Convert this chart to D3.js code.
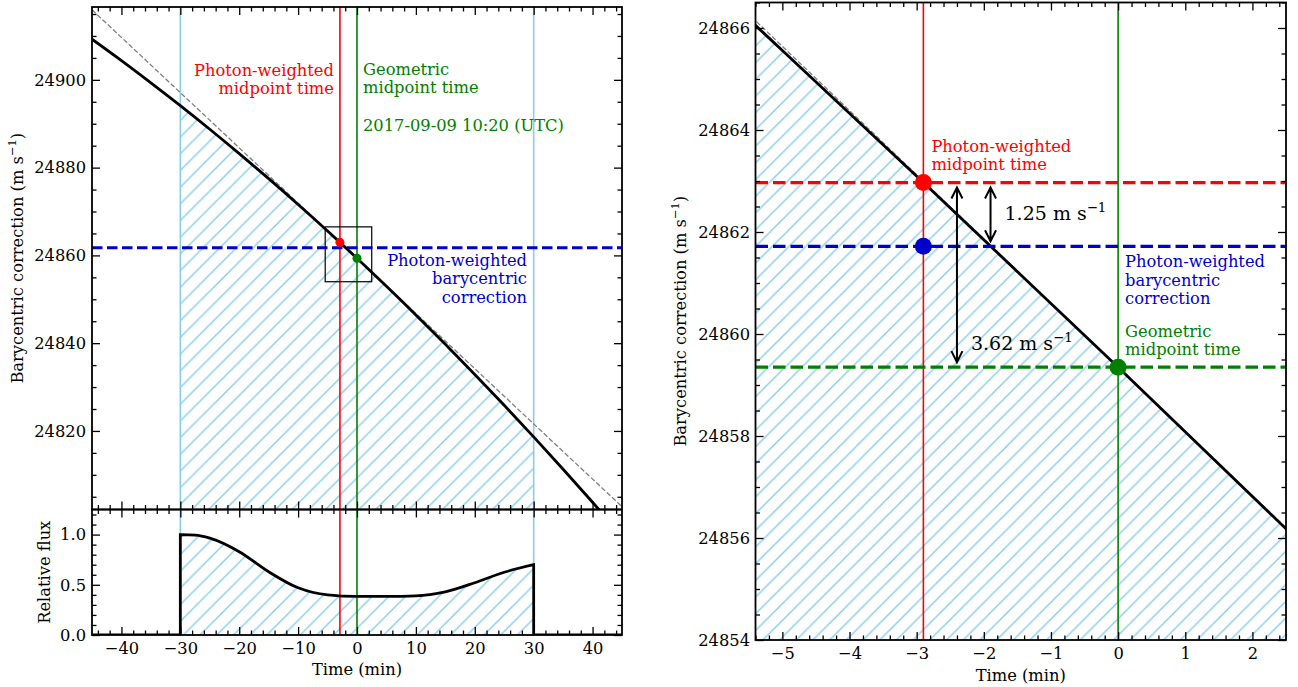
<!DOCTYPE html>
<html>
<head>
<meta charset="utf-8">
<script src="https://cdn.jsdelivr.net/npm/d3@7"></script>
<style>
  body { margin: 0; background: #fff; }
  svg text { font-family: "DejaVu Serif", serif; }
</style>
</head>
<body>
<svg id="fig" width="1298" height="687"></svg>
<script>
// ---- data ----
// barycentric correction (m/s) against time from the geometric midpoint (min)
const timeMin  = [-45, -40, -35, -30, -25, -20, -15, -10, -5, -2.9, 0, 2.5, 5, 10, 15, 20, 25, 30, 35, 40, 45];
const baryCorr = [24909.27, 24904.39, 24899.33, 24894.12, 24888.74, 24883.19, 24877.48, 24871.60, 24865.56, 24862.97,
                  24859.35, 24856.18, 24852.98, 24846.44, 24839.74, 24832.87, 24825.84, 24818.64, 24811.28, 24803.75, 24796.06];
// straight-line (first order) correction about the geometric midpoint
const linearTime = [-45, 45];
const linearCorr = [24915.96, 24802.74];
// relative flux during the exposure
const fluxTime = [-30, -27.5, -25, -20, -15, -10, -5, 0, 5, 10, 15, 20, 25, 30];
const fluxRel  = [1.00, 0.995, 0.965, 0.83, 0.63, 0.47, 0.40, 0.385, 0.385, 0.39, 0.43, 0.52, 0.625, 0.70];
const exposure = [-30, 30];
const photonMidTime = -2.9, geoMidTime = 0;
const photonMidCorr = 24862.97, photonWeightedCorr = 24861.72, geoMidCorr = 24859.35;
const arrowTimes = [-1.9, -2.4];
const dateLabel = "2017-09-09 10:20 (UTC)";
// ticks
const leftXTicks = [-40, -30, -20, -10, 0, 10, 20, 30, 40];
const leftYTicks = [24820, 24840, 24860, 24880, 24900];
const fluxTicks  = [0, 0.5, 1.0];
const rightXTicks = [-5, -4, -3, -2, -1, 0, 1, 2];
const rightYTicks = [24854, 24856, 24858, 24860, 24862, 24864, 24866];

// ---- colours ----
const C = { sky: "#87ceeb", red: "#ff0000", green: "#008000", blue: "#0000cd", gray: "#808080" };

const svg = d3.select("#fig");
const FS = 16.3;

// ---- scales ----
const xL = d3.scaleLinear().domain([-45, 45]).range([92, 622]);
const yL = d3.scaleLinear().domain([24802.1, 24916.6]).range([509.5, 7]);
const yF = d3.scaleLinear().domain([0, 1.25]).range([635, 509.5]);
const xR = d3.scaleLinear().domain([-5.4, 2.5]).range([755.5, 1286]);
const yR = d3.scaleLinear().domain([24854, 24866.5]).range([640, 2.5]);

// ---- defs: hatch and clips ----
const defs = svg.append("defs");
const hs = 16.7;
defs.append("pattern").attr("id", "hatch").attr("patternUnits", "userSpaceOnUse")
  .attr("width", hs).attr("height", hs)
  .append("path")
  .attr("d", `M${-hs/2},${hs/2}L${hs/2},${-hs/2}M0,${hs}L${hs},0M${hs/2},${1.5*hs}L${1.5*hs},${hs/2}`)
  .attr("stroke", C.sky).attr("stroke-width", 1.4).attr("fill", "none");

function clip(id, x, y) {
  const [x0, x1] = x.range(), [y0, y1] = y.range();
  defs.append("clipPath").attr("id", id).append("rect")
    .attr("x", x0).attr("y", y1).attr("width", x1 - x0).attr("height", y0 - y1);
  return `url(#${id})`;
}

function minorTicks(scale, step, majors) {
  const [a, b] = scale.domain().slice().sort((p, q) => p - q);
  const start = Math.ceil(a / step - 1e-9) * step;
  return d3.range(start, b + 1e-9, step)
    .filter(v => !majors.some(m => Math.abs(m - v) < step / 10));
}

// frame with inward ticks on all four sides
function frame(g, x, y, o) {
  const [x0, x1] = x.range(), [y0, y1] = y.range();
  const blank = () => "";
  const put = (axis, tr) => {
    const a = g.append("g").attr("transform", tr).call(axis);
    a.select(".domain").remove();
    a.attr("font-size", FS).attr("font-family", "DejaVu Serif, serif");
    a.selectAll(".tick line").attr("stroke", "#000").attr("stroke-width", 1.3);
    a.selectAll(".tick text").attr("fill", "#000");
    return a;
  };
  const xMin = minorTicks(x, o.xMinor, o.xMajor), yMin = minorTicks(y, o.yMinor, o.yMajor);
  put(d3.axisBottom(x).tickValues(o.xMajor).tickSize(-8).tickPadding(7).tickFormat(o.xFmt || blank), `translate(0,${y0})`);
  put(d3.axisBottom(x).tickValues(xMin).tickSize(-4.5).tickFormat(blank), `translate(0,${y0})`);
  put(d3.axisTop(x).tickValues(o.xMajor).tickSize(-8).tickFormat(blank), `translate(0,${y1})`);
  put(d3.axisTop(x).tickValues(xMin).tickSize(-4.5).tickFormat(blank), `translate(0,${y1})`);
  put(d3.axisLeft(y).tickValues(o.yMajor).tickSize(-8).tickPadding(o.yPad).tickFormat(o.yFmt || blank), `translate(${x0},0)`);
  put(d3.axisLeft(y).tickValues(yMin).tickSize(-4.5).tickFormat(blank), `translate(${x0},0)`);
  put(d3.axisRight(y).tickValues(o.yMajor).tickSize(-8).tickFormat(blank), `translate(${x1},0)`);
  put(d3.axisRight(y).tickValues(yMin).tickSize(-4.5).tickFormat(blank), `translate(${x1},0)`);
  g.append("rect").attr("x", x0).attr("y", y1).attr("width", x1 - x0).attr("height", y0 - y1)
    .attr("fill", "none").attr("stroke", "#000").attr("stroke-width", 1.8);
}

// text with a "m s^-1" style superscript
function unitText(sel, pre, size) {
  sel.append("tspan").text(pre + "m s");
  sel.append("tspan").attr("dy", -0.42 * size).attr("font-size", size * 0.7).text("\u22121");
}

function multiline(g, lines, x, y0, lh, color, anchor, size) {
  lines.forEach((t, i) => g.append("text").attr("x", x).attr("y", y0 + i * lh)
    .attr("fill", color).attr("text-anchor", anchor).attr("font-size", size || FS).text(t));
}

const corr = timeMin.map((t, i) => ({ t, v: baryCorr[i] }));
const lin = linearTime.map((t, i) => ({ t, v: linearCorr[i] }));
const flux = fluxTime.map((t, i) => ({ t, v: fluxRel[i] }));
const inExp = d => d.t >= exposure[0] - 1e-9 && d.t <= exposure[1] + 1e-9;

// =========================== left, upper panel ===========================
{
  const g = svg.append("g");
  const body = g.append("g").attr("clip-path", clip("clipLT", xL, yL));
  const area = d3.area().curve(d3.curveMonotoneX).x(d => xL(d.t)).y0(yL.range()[0]).y1(d => yL(d.v));
  body.append("path").datum(corr.filter(inExp)).attr("d", area).attr("fill", "url(#hatch)");
  exposure.forEach(t => body.append("line").attr("x1", xL(t)).attr("x2", xL(t))
    .attr("y1", yL.range()[1]).attr("y2", yL.range()[0]).attr("stroke", C.sky).attr("stroke-width", 1.6));
  [[photonMidTime, C.red], [geoMidTime, C.green]].forEach(([t, c]) =>
    body.append("line").attr("x1", xL(t)).attr("x2", xL(t)).attr("y1", yL.range()[1]).attr("y2", yL.range()[0])
      .attr("stroke", c).attr("stroke-width", 1.6));
  const line = d3.line().x(d => xL(d.t)).y(d => yL(d.v));
  body.append("path").datum(lin).attr("d", line).attr("fill", "none").attr("stroke", C.gray)
    .attr("stroke-width", 1.3).attr("stroke-dasharray", "5,2.2");
  body.append("path").datum(corr).attr("d", line.curve(d3.curveMonotoneX)).attr("fill", "none")
    .attr("stroke", "#000").attr("stroke-width", 2.8);
  body.append("line").attr("x1", xL.range()[0]).attr("x2", xL.range()[1])
    .attr("y1", yL(photonWeightedCorr)).attr("y2", yL(photonWeightedCorr))
    .attr("stroke", C.blue).attr("stroke-width", 3).attr("stroke-dasharray", "10.5,4.5");
  // zoom window shown on the right
  body.append("rect").attr("x", xL(xR.domain()[0])).attr("y", yL(yR.domain()[1]))
    .attr("width", xL(xR.domain()[1]) - xL(xR.domain()[0]))
    .attr("height", yL(yR.domain()[0]) - yL(yR.domain()[1]))
    .attr("fill", "none").attr("stroke", "#000").attr("stroke-width", 1.2);
  body.append("circle").attr("cx", xL(photonMidTime)).attr("cy", yL(photonMidCorr)).attr("r", 4.5).attr("fill", C.red);
  body.append("circle").attr("cx", xL(geoMidTime)).attr("cy", yL(geoMidCorr)).attr("r", 4.5).attr("fill", C.green);

  frame(g, xL, yL, { xMajor: leftXTicks, xMinor: 2, yMajor: leftYTicks, yMinor: 5, yFmt: d3.format("d"), yPad: 6 });

  multiline(g, ["Photon-weighted", "midpoint time"], xL(photonMidTime) - 6, 75.5, 18.3, C.red, "end");
  multiline(g, ["Geometric", "midpoint time"], xL(geoMidTime) + 6, 74.5, 18.3, C.green, "start");
  multiline(g, [dateLabel], xL(geoMidTime) + 6, 130.5, 18.3, C.green, "start");
  multiline(g, ["Photon-weighted", "barycentric", "correction"], 527, yL(photonWeightedCorr) + 18.3, 18.3, C.blue, "end");

  const yl = g.append("text").attr("transform", `translate(23,${(yL.range()[0] + yL.range()[1]) / 2}) rotate(-90)`)
    .attr("text-anchor", "middle").attr("font-size", FS);
  yl.append("tspan").text("Barycentric correction (");
  unitText(yl, "", FS);
  yl.append("tspan").attr("dy", 0.42 * FS).text(")");
}

// =========================== left, lower panel ===========================
{
  const g = svg.append("g");
  const body = g.append("g").attr("clip-path", clip("clipLB", xL, yF));
  const area = d3.area().curve(d3.curveMonotoneX).x(d => xL(d.t)).y0(yF(0)).y1(d => yF(d.v));
  body.append("path").datum(flux).attr("d", area).attr("fill", "url(#hatch)");
  exposure.forEach(t => body.append("line").attr("x1", xL(t)).attr("x2", xL(t))
    .attr("y1", yF.range()[1]).attr("y2", yF.range()[0]).attr("stroke", C.sky).attr("stroke-width", 1.6));
  [[photonMidTime, C.red], [geoMidTime, C.green]].forEach(([t, c]) =>
    body.append("line").attr("x1", xL(t)).attr("x2", xL(t)).attr("y1", yF.range()[1]).attr("y2", yF.range()[0])
      .attr("stroke", c).attr("stroke-width", 1.6));
  const curve = d3.line().curve(d3.curveMonotoneX).x(d => xL(d.t)).y(d => yF(d.v))(flux);
  const first = flux[0], last = flux[flux.length - 1];
  const d = `M${xL(xL.domain()[0])},${yF(0)}L${xL(first.t)},${yF(0)}L` + curve.slice(1) +
            `L${xL(last.t)},${yF(0)}L${xL(xL.domain()[1])},${yF(0)}`;
  body.append("path").attr("d", d).attr("fill", "none").attr("stroke", "#000").attr("stroke-width", 2.8);

  frame(g, xL, yF, { xMajor: leftXTicks, xMinor: 2, xFmt: d3.format("d"), yMajor: fluxTicks, yMinor: 0.1, yFmt: d3.format(".1f"), yPad: 6 });

  g.append("text").attr("transform", `translate(50,${(yF.range()[0] + yF.range()[1]) / 2}) rotate(-90)`)
    .attr("text-anchor", "middle").attr("font-size", FS).text("Relative flux");
  g.append("text").attr("x", (xL.range()[0] + xL.range()[1]) / 2).attr("y", 675)
    .attr("text-anchor", "middle").attr("font-size", FS).text("Time (min)");
}

// =========================== right panel (zoom) ===========================
{
  const g = svg.append("g");
  const body = g.append("g").attr("clip-path", clip("clipR", xR, yR));
  const area = d3.area().curve(d3.curveMonotoneX).x(d => xR(d.t)).y0(yR.range()[0]).y1(d => yR(d.v));
  body.append("path").datum(corr.filter(inExp)).attr("d", area).attr("fill", "url(#hatch)");
  [[photonMidTime, C.red], [geoMidTime, C.green]].forEach(([t, c]) =>
    body.append("line").attr("x1", xR(t)).attr("x2", xR(t)).attr("y1", yR.range()[1]).attr("y2", yR.range()[0])
      .attr("stroke", c).attr("stroke-width", 1.6));
  const line = d3.line().x(d => xR(d.t)).y(d => yR(d.v));
  body.append("path").datum(lin).attr("d", line).attr("fill", "none").attr("stroke", C.gray)
    .attr("stroke-width", 1.3).attr("stroke-dasharray", "5,2.2");
  body.append("path").datum(corr).attr("d", line.curve(d3.curveMonotoneX)).attr("fill", "none")
    .attr("stroke", "#000").attr("stroke-width", 2.8);
  [[photonMidCorr, C.red], [photonWeightedCorr, C.blue], [geoMidCorr, C.green]].forEach(([v, c]) =>
    body.append("line").attr("x1", xR.range()[0]).attr("x2", xR.range()[1]).attr("y1", yR(v)).attr("y2", yR(v))
      .attr("stroke", c).attr("stroke-width", 3.3).attr("stroke-dasharray", "12.5,5"));
  body.append("circle").attr("cx", xR(photonMidTime)).attr("cy", yR(photonMidCorr)).attr("r", 8.5).attr("fill", C.red);
  body.append("circle").attr("cx", xR(photonMidTime)).attr("cy", yR(photonWeightedCorr)).attr("r", 8.5).attr("fill", C.blue);
  body.append("circle").attr("cx", xR(geoMidTime)).attr("cy", yR(geoMidCorr)).attr("r", 8.5).attr("fill", C.green);

  // double-headed arrows between the corrections
  const arrows = [
    { t: arrowTimes[0], from: photonMidCorr, to: photonWeightedCorr },
    { t: arrowTimes[1], from: photonMidCorr, to: geoMidCorr }
  ];
  arrows.forEach(a => {
    const x = xR(a.t), ya = yR(a.from) + 5, yb = yR(a.to) - 5;
    const hw = 5.5, hl = 11;
    g.append("path").attr("d",
      `M${x},${ya}L${x},${yb}M${x - hw},${ya + hl}L${x},${ya}L${x + hw},${ya + hl}M${x - hw},${yb - hl}L${x},${yb}L${x + hw},${yb - hl}`)
      .attr("fill", "none").attr("stroke", "#000").attr("stroke-width", 2);
  });
  const big = 19;
  const t1 = g.append("text").attr("x", xR(arrowTimes[0]) + 14).attr("y", (yR(photonMidCorr) + yR(photonWeightedCorr)) / 2 + 6)
    .attr("font-size", big);
  unitText(t1, (photonMidCorr - photonWeightedCorr).toFixed(2) + " ", big);
  const t2 = g.append("text").attr("x", xR(arrowTimes[1]) + 14).attr("y", yR(geoMidCorr) - 17)
    .attr("font-size", big);
  unitText(t2, (photonMidCorr - geoMidCorr).toFixed(2) + " ", big);

  multiline(g, ["Photon-weighted", "midpoint time"], xR(photonMidTime) + 8, yR(photonMidCorr) - 30.5, 18.3, C.red, "start");
  multiline(g, ["Photon-weighted", "barycentric", "correction"], xR(geoMidTime) + 7, yR(photonWeightedCorr) + 21, 18.3, C.blue, "start");
  multiline(g, ["Geometric", "midpoint time"], xR(geoMidTime) + 7, yR(geoMidCorr) - 30, 18.3, C.green, "start");

  frame(g, xR, yR, { xMajor: rightXTicks, xMinor: 0.2, xFmt: d3.format("d"), yMajor: rightYTicks, yMinor: 0.5, yFmt: d3.format("d"), yPad: 5.5 });

  const yl = g.append("text").attr("transform", `translate(686,${(yR.range()[0] + yR.range()[1]) / 2}) rotate(-90)`)
    .attr("text-anchor", "middle").attr("font-size", FS);
  yl.append("tspan").text("Barycentric correction (");
  unitText(yl, "", FS);
  yl.append("tspan").attr("dy", 0.42 * FS).text(")");
  g.append("text").attr("x", (xR.range()[0] + xR.range()[1]) / 2).attr("y", 681)
    .attr("text-anchor", "middle").attr("font-size", FS).text("Time (min)");
}
</script>
</body>
</html>
